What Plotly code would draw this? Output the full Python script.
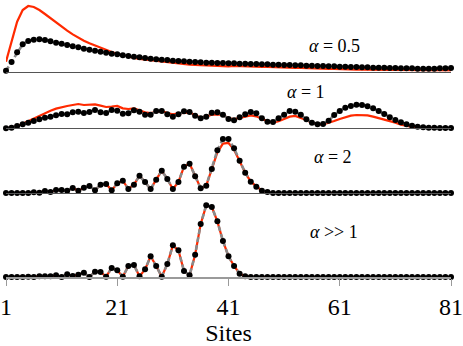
import plotly.graph_objects as go
from plotly.subplots import make_subplots

sites = list(range(1, 82))
tick_sites = [1, 21, 41, 61, 81]
labels = ["<i>α</i> = 0.5", "<i>α</i> = 1", "<i>α</i> = 2", "<i>α</i> >> 1"]

# alpha = 0.5
sim_a05 = [3, 29, 58, 82, 92, 96, 97, 95, 91, 87, 84, 80, 76, 73, 69, 66, 63, 60, 57, 54,
           52, 49, 47, 45, 43, 41, 39, 37, 36, 35, 33, 32, 31, 30, 29, 28, 27, 27, 26, 26, 25,
           25, 24, 24, 23, 23, 22, 22, 21, 21, 20, 20, 19, 19, 18, 18, 17, 17, 16, 16, 15,
           15, 14, 14, 13, 13, 12, 12, 12, 11, 11, 10, 10, 10, 9, 9, 9, 9, 10, 10, 11]
th_a05 = [30, 90, 150, 185, 197, 194, 185, 173, 160, 147, 135, 123, 112, 102, 93, 85, 78, 71, 65, 59,
          54, 49, 45, 41, 38, 36, 33, 31, 29, 28, 25, 24, 23, 21, 20, 19, 18, 18, 17, 17, 16,
          17, 16, 16, 15, 15, 14, 14, 13, 13, 12, 12, 11, 11, 10, 10, 9, 9, 8, 8, 7,
          7, 7, 6, 6, 6, 5, 5, 5, 5, 5, 4, 4, 4, 4, 4, 4, 4, 4, 4, 4]

# alpha = 1
sim_a1 = [0, 2, 7, 12, 17, 22, 27, 32, 35, 39, 43, 42, 48, 50, 46, 49, 55, 48, 46, 55,
          53, 44, 45, 54, 50, 41, 41, 52, 52, 42, 35, 42, 51, 49, 38, 30, 35, 47, 48, 41, 28,
          24, 33, 42, 49, 45, 30, 20, 19, 30, 41, 52, 50, 41, 27, 17, 12, 13, 23, 40, 52,
          62, 67, 71, 70, 66, 60, 52, 43, 33, 25, 18, 12, 8, 5, 3, 2, 2, 1, 1, 1]
th_a1 = [0, 2, 6, 14, 22, 30, 38, 46, 53, 59, 64, 67, 70, 73, 70, 70, 72, 68, 64, 65,
         67, 60, 58, 60, 55, 48, 46, 48, 52, 46, 42, 45, 47, 48, 40, 32, 36, 41, 42, 40, 30,
         28, 31, 36, 39, 36, 28, 21, 17, 21, 28, 35, 37, 32, 25, 16, 12, 12, 16, 22, 28,
         34, 38, 40, 40, 39, 35, 31, 27, 23, 17, 11, 7, 4, 2, 1, 1, 0, 0, 0, 0]

# alpha = 2
sim_a2 = [0, 0, 0, 0, 0, 2, 1, 6, 3, 9, 9, 7, 15, 7, 16, 21, 8, 25, 27, 8,
          29, 37, 12, 25, 52, 33, 12, 40, 67, 42, 12, 33, 79, 88, 50, 14, 22, 72, 128, 162, 162,
          134, 97, 61, 34, 19, 7, 3] + [0] * 33
th_a2 = [0, 0, 0, 0, 0, 2, 1, 6, 3, 9, 9, 7, 15, 7, 16, 21, 8, 25, 27, 8,
         29, 37, 12, 25, 52, 33, 12, 40, 67, 42, 12, 33, 79, 88, 50, 14, 22, 72, 122, 148, 150,
         130, 97, 61, 34, 19, 7, 3] + [0] * 33

# alpha >> 1
sim_ainf = [0, 0, 0, 0, 1, 0, 2, 2, 2, 5, 0, 8, 3, 7, 13, 0, 16, 15, 1, 27,
            20, 1, 33, 36, 2, 23, 62, 33, 1, 39, 95, 80, 18, 5, 67, 159, 215, 210, 167, 108, 62,
            33, 10, 2] + [0] * 37
th_ainf = list(sim_ainf)

sims = [sim_a05, sim_a1, sim_a2, sim_ainf]
ths = [th_a05, th_a1, th_a2, th_ainf]

fig = make_subplots(rows=4, cols=1, shared_xaxes=True, vertical_spacing=0)

for i in range(4):
    r = i + 1
    fig.add_trace(go.Scatter(x=sites, y=ths[i], mode="lines",
                             line=dict(color="#ff2a00", width=2.2),
                             cliponaxis=False, showlegend=False), row=r, col=1)
    fig.add_trace(go.Scatter(x=sites, y=sims[i], mode="lines+markers",
                             line=dict(color="#8a8a8a", width=2.6, dash="5px,3px"),
                             marker=dict(color="black", size=6),
                             cliponaxis=False, showlegend=False), row=r, col=1)

domains = [[0.7412, 1.0], [0.5368, 0.7412], [0.3033, 0.5368], [0.0, 0.3033]]
yranges = [[0, 215], [0, 170], [0, 194], [0, 252]]
serif = "Liberation Serif, Times New Roman, serif"

for i in range(4):
    r = i + 1
    fig.update_yaxes(domain=domains[i], range=yranges[i], visible=False,
                     showgrid=False, zeroline=False, row=r, col=1)
    fig.update_xaxes(range=[1, 81], showgrid=False, zeroline=False, showline=True,
                     linecolor="#555555", linewidth=1, ticks="", automargin=False,
                     row=r, col=1)

fig.update_xaxes(row=4, col=1, linecolor="#9a9a9a", linewidth=1.5, ticks="outside",
                 ticklen=7, tickcolor="#9a9a9a", tickwidth=1, tickvals=tick_sites,
                 showticklabels=True, tickfont=dict(family=serif, size=24, color="black"),
                 title=dict(text="Sites", font=dict(family=serif, size=24, color="black"),
                            standoff=5))

ann_x = [60, 54.9, 59.8, 60]
ann_y = [77, 109, 108, 135]
yrefs = ["y", "y2", "y3", "y4"]
xrefs = ["x", "x2", "x3", "x4"]
for i in range(4):
    fig.add_annotation(x=ann_x[i], y=ann_y[i], xref=xrefs[i], yref=yrefs[i],
                       text=labels[i], showarrow=False,
                       font=dict(family=serif, size=18, color="black"))

fig.update_layout(width=463, height=346, margin=dict(l=6, r=12, t=0, b=69),
                  plot_bgcolor="white", paper_bgcolor="white", showlegend=False)

fig.write_html("out.html", config={"displayModeBar": False},
               post_script="document.body.style.margin='0px';document.body.style.overflow='hidden';")
